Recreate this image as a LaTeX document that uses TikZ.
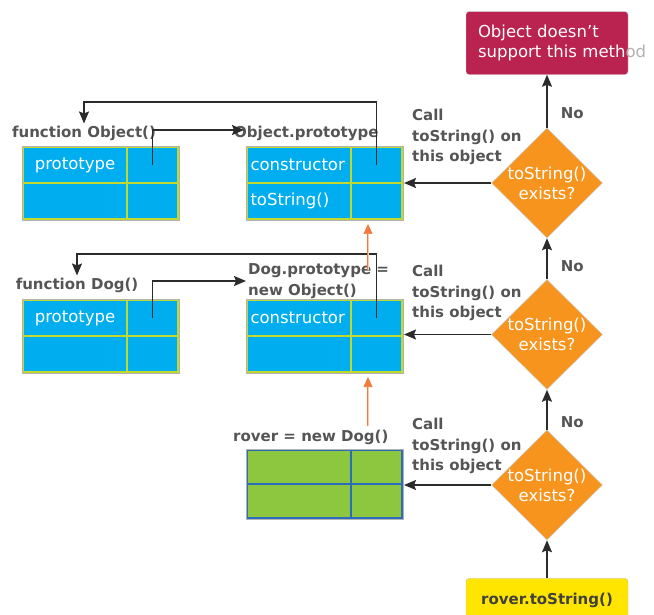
\documentclass[tikz,border=0pt]{standalone}
\usepackage{fontspec}
\setmainfont{DejaVu Sans}
\usepackage{tikz}
\usetikzlibrary{shapes.geometric,arrows.meta,positioning,calc}

\definecolor{cellblue}{HTML}{00AEEF}
\definecolor{cellline}{HTML}{C2D82F}
\definecolor{roverfill}{HTML}{8DC63F}
\definecolor{roverline}{HTML}{2A6EBB}
\definecolor{alertred}{HTML}{BA2250}
\definecolor{testorange}{HTML}{F7941E}
\definecolor{startyellow}{HTML}{FFE500}
\definecolor{inhorange}{HTML}{F47A3C}
\definecolor{inhpale}{HTML}{FBC9AC}
\definecolor{linkgray}{HTML}{2B2B2B}
\definecolor{labelgray}{HTML}{555555}

\tikzset{
    cell/.style={rectangle, draw=cellline, fill=cellblue, line width=1.2pt, outer sep=0pt, inner sep=0pt, minimum height=36pt, text=white},
    keycell/.style={cell, minimum width=104pt},
    valcell/.style={cell, minimum width=51pt},
    slotcell/.style={keycell, text width=97pt, align=left},
    rovercell/.style={draw=roverline, fill=roverfill, minimum height=34pt},
    frame/.style={draw=black!30, line width=0.6pt},
    lbl/.style={text=labelgray, inner sep=2pt, font=\fontsize{15}{20.5}\selectfont\bfseries},
    callnote/.style={lbl, align=left, anchor=west},
    decision/.style={diamond, aspect=1, fill=testorange, draw=black!20, line width=0.5pt, minimum width=111pt, minimum height=110pt, inner sep=-4pt, text=white, align=center},
    alert/.style={rectangle, rounded corners=3pt, fill=alertred, draw=black!20, text=white, align=left, text width=138pt, inner xsep=12pt, minimum height=63pt},
    start/.style={rectangle, rounded corners=3pt, fill=startyellow, draw=black!25, text=black!75, minimum width=162pt, minimum height=44pt, font=\fontsize{15}{20}\selectfont\bfseries},
    link/.style={draw=linkgray, line width=1.6pt, -{Stealth[length=12pt,width=10pt,inset=2pt]}},
    inherit/.style={draw=inhorange, double=inhpale, double distance=1pt, line width=0.7pt, -{Triangle[length=10pt,width=9pt,fill=inhorange]}, shorten >=5pt}
}

\begin{document}
\begin{tikzpicture}[x=1pt, y=-1pt, font=\fontsize{16.5}{20}\selectfont]
    \useasboundingbox (0,0) rectangle (654,615);

    % function Object() and Object.prototype
    \node (objfn-k1) [keycell] at (75,165) {prototype};
    \node (objfn-v1) [valcell, right=0pt of objfn-k1] {};
    \node (objfn-k2) [keycell, below=0pt of objfn-k1] {};
    \node (objfn-v2) [valcell, right=0pt of objfn-k2] {};
    \draw [frame] ($(objfn-k1.north west)+(-1,-1)$) rectangle ($(objfn-v2.south east)+(1,1)$);
    \node (objfn-lbl) [lbl] at (84,133) {function Object()};

    \node (objproto-k1) [slotcell] at (299,165) {constructor};
    \node (objproto-v1) [valcell, right=0pt of objproto-k1] {};
    \node (objproto-k2) [slotcell, below=0pt of objproto-k1] {toString()};
    \node (objproto-v2) [valcell, right=0pt of objproto-k2] {};
    \draw [frame] ($(objproto-k1.north west)+(-1,-1)$) rectangle ($(objproto-v2.south east)+(1,1)$);
    \node (objproto-lbl) [lbl, anchor=west] at (232,133) {Object.prototype};

    % function Dog() and Dog.prototype
    \node (dogfn-k1) [keycell] at (75,318) {prototype};
    \node (dogfn-v1) [valcell, right=0pt of dogfn-k1] {};
    \node (dogfn-k2) [keycell, below=0pt of dogfn-k1] {};
    \node (dogfn-v2) [valcell, right=0pt of dogfn-k2] {};
    \draw [frame] ($(dogfn-k1.north west)+(-1,-1)$) rectangle ($(dogfn-v2.south east)+(1,1)$);
    \node (dogfn-lbl) [lbl] at (77,285) {function Dog()};

    \node (dogproto-k1) [slotcell] at (299,318) {constructor};
    \node (dogproto-v1) [valcell, right=0pt of dogproto-k1] {};
    \node (dogproto-k2) [keycell, below=0pt of dogproto-k1] {};
    \node (dogproto-v2) [valcell, right=0pt of dogproto-k2] {};
    \draw [frame] ($(dogproto-k1.north west)+(-1,-1)$) rectangle ($(dogproto-v2.south east)+(1,1)$);
    \node (dogproto-lbl) [lbl, anchor=west, align=left] at (246,281) {Dog.prototype =\\new Object()};

    % rover
    \node (rover-k1) [keycell, rovercell] at (299,467) {};
    \node (rover-v1) [valcell, rovercell, right=0pt of rover-k1] {};
    \node (rover-k2) [keycell, rovercell, below=0pt of rover-k1] {};
    \node (rover-v2) [valcell, rovercell, right=0pt of rover-k2] {};
    \draw [frame] ($(rover-k1.north west)+(-1,-1)$) rectangle ($(rover-v2.south east)+(1,1)$);
    \node (rover-lbl) [lbl, anchor=west] at (231,437) {rover = new Dog()};

    % lookup chain
    \node (test1) [decision] at (547,183) {toString()\\exists?};
    \node (test2) [decision, below=41pt of test1] {toString()\\exists?};
    \node (test3) [decision, below=40pt of test2] {toString()\\exists?};
    \node (nosupport) [alert, above=53pt of test1] {Object doesn't\\support~this~meth\textcolor{black!30}{od}};
    \node (call-start) [start, below=38pt of test3] {rover.toString()};

    \node (call1) [callnote] at (410,137) {Call\\toString() on\\this object};
    \node (call2) [callnote] at (410,293) {Call\\toString() on\\this object};
    \node (call3) [callnote] at (410,446) {Call\\toString() on\\this object};

    \draw [link] (call-start) -- (test3);
    \draw [link] (test3) -- (test2) node (no3) [lbl, pos=0.18, right=11pt] {No};
    \draw [link] (test2) -- (test1) node (no2) [lbl, pos=0.32, right=11pt] {No};
    \draw [link] (test1) -- (nosupport) node (no1) [lbl, pos=0.28, right=11pt] {No};

    \draw [link, shorten >=2pt] (test1) -- (test1 -| objproto-v2.east);
    \draw [link, shorten >=2pt] (test2) -- (test2 -| dogproto-v2.east);
    \draw [link, shorten >=2pt] (test3) -- (test3 -| rover-v2.east);

    % constructor / prototype references
    \draw [link] (objfn-v1.center) |- ($(objproto-lbl.west)+(12,-3)$);
    \draw [link] (objproto-v1.center) -- ++(0,-63) -| (objfn-lbl.north);
    \draw [link] (dogfn-v1.center) |- (dogproto-lbl.west);
    \draw [link] (dogproto-v1.center) -- ++(0,-64) -| (dogfn-lbl.north);

    % inheritance
    \coordinate (inh1) at (368,270);
    \coordinate (inh2) at (368,426);
    \draw [inherit] (inh1) -- (inh1 |- objproto-v2.south);
    \draw [inherit] (inh2) -- (inh2 |- dogproto-v2.south);
\end{tikzpicture}
\end{document}
